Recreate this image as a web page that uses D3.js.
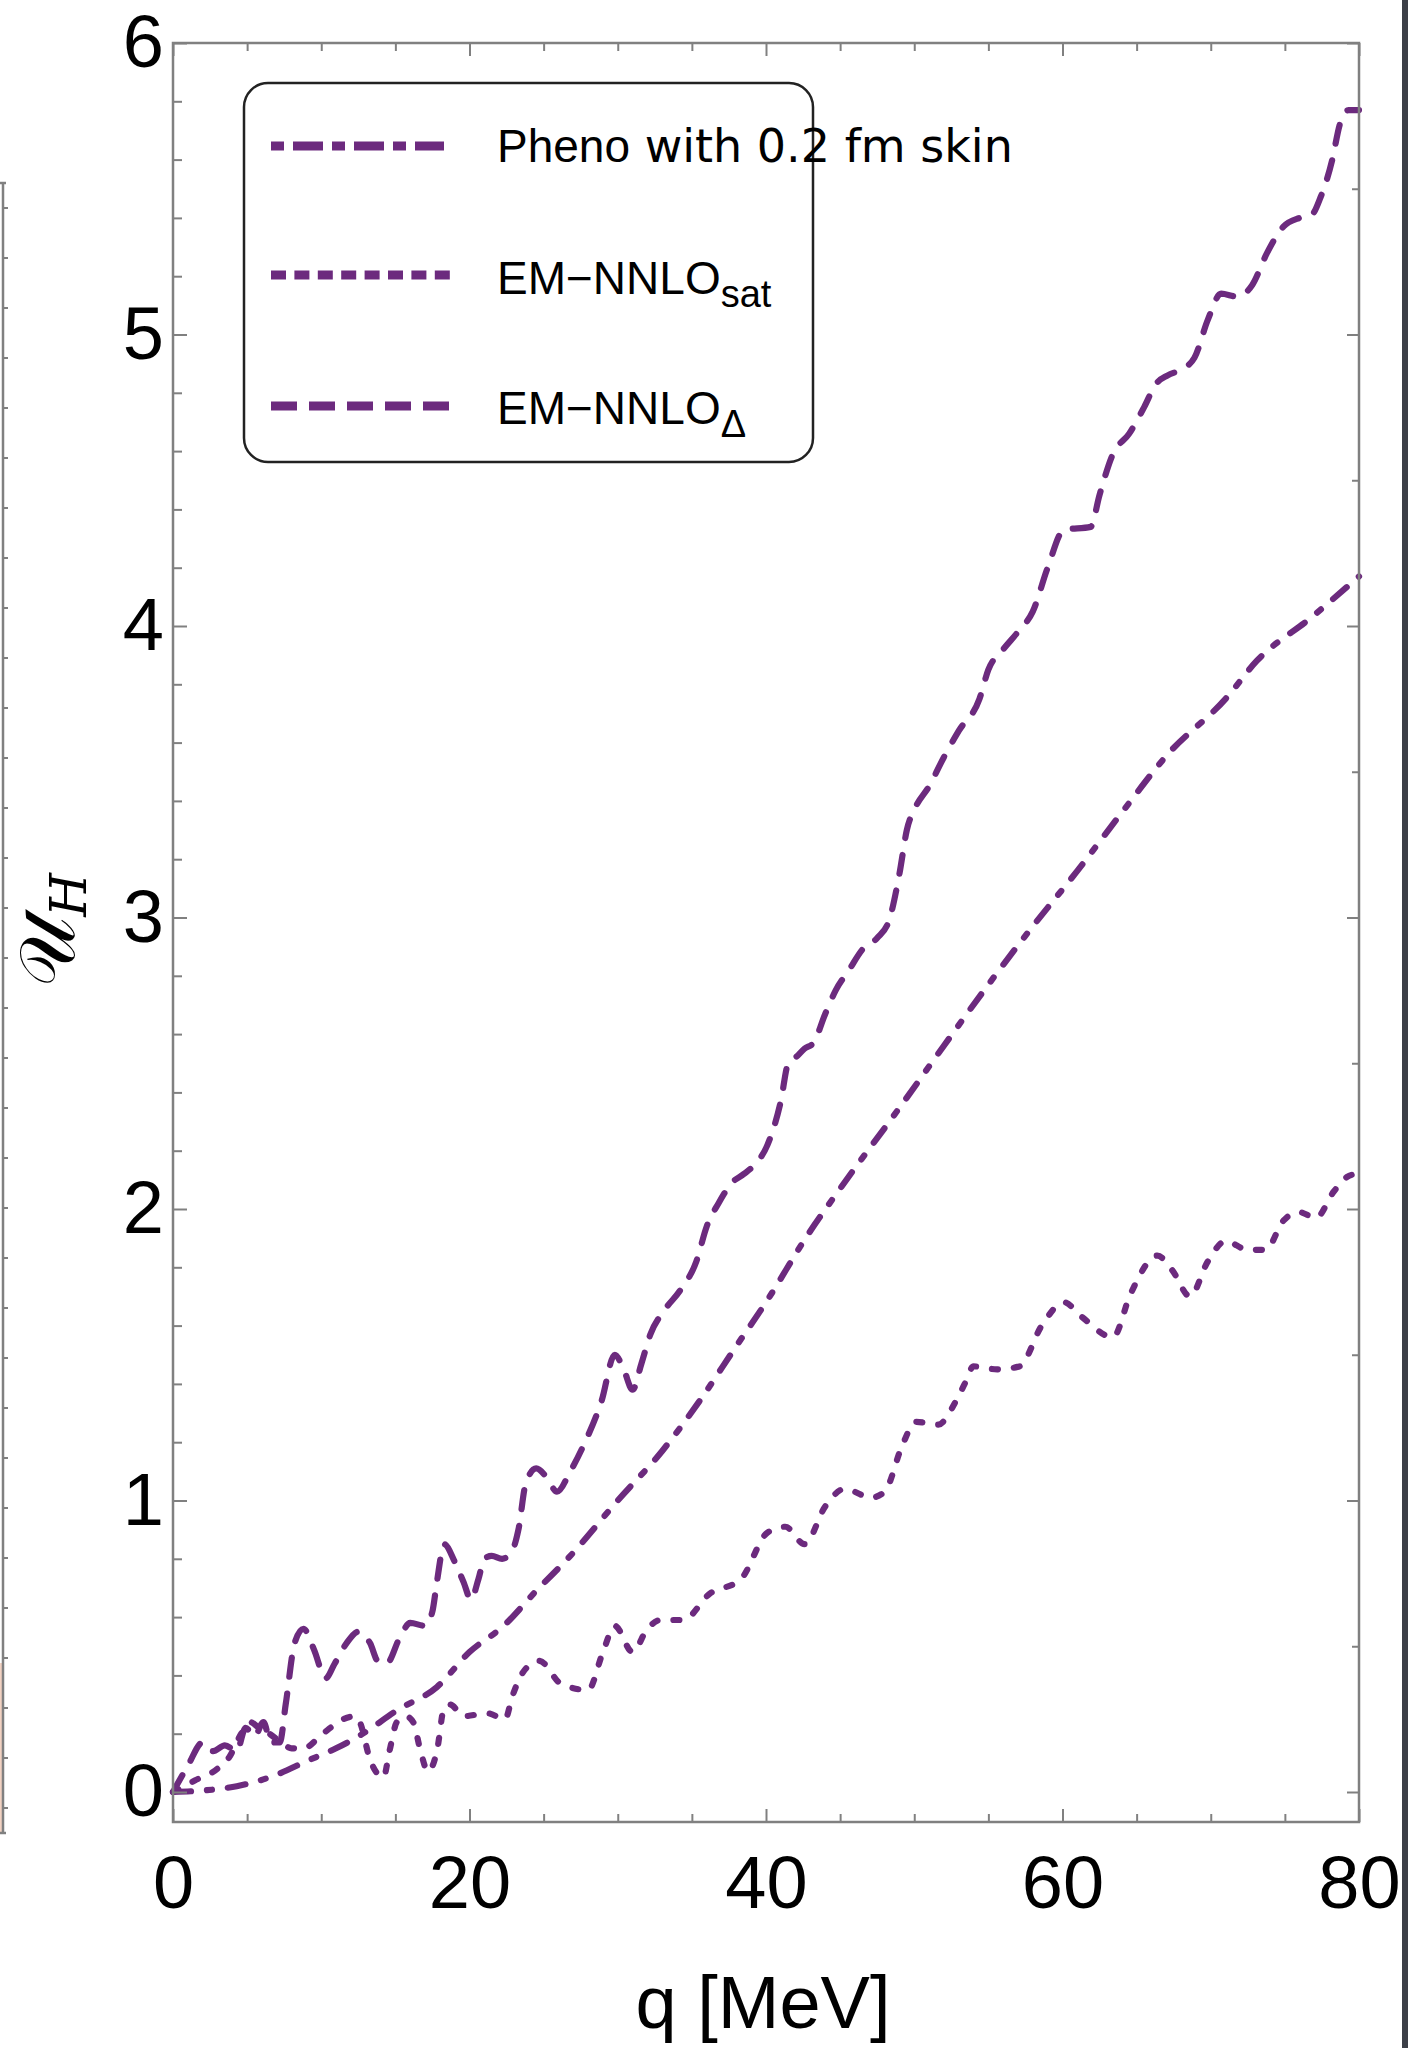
<!DOCTYPE html>
<html>
<head>
<meta charset="utf-8">
<script src="https://cdn.jsdelivr.net/npm/d3@7"></script>
<style>
  body { margin: 0; background: #fff; }
  svg { display: block; }
</style>
</head>
<body>
<svg id="chart"></svg>
<script>
// tick labels
const qTicks = [0, 20, 40, 60, 80];
const uTicks = [0, 1, 2, 3, 4, 5, 6];

// legend text
const legendMain = ["Pheno", "EM\u2212NNLO", "EM\u2212NNLO"];
const legendExtra = [" with 0.2 fm skin", "", ""];
const legendSub = ["", "sat", "\u0394"];

// Pheno with 0.2 fm skin (dot-dashed)
const phenoQ = [0, 3, 4.3, 6.5, 9.2, 11, 12.8, 15.1, 17.8, 20, 22.3, 24.5, 26.8, 30, 33, 35.5, 38, 40, 42.8, 45, 48.9, 52, 55, 58, 61, 64, 67.1, 71, 73.1, 76.8, 80];
const phenoU = [0, 0.01, 0.02, 0.05, 0.11, 0.15, 0.2, 0.28, 0.36, 0.48, 0.57, 0.69, 0.81, 1.0, 1.17, 1.34, 1.53, 1.68, 1.91, 2.07, 2.34, 2.56, 2.77, 2.97, 3.16, 3.36, 3.56, 3.75, 3.88, 4.03, 4.17];

// EM-NNLO_sat (dotted)
const satQ = [0, 1.5, 3.0, 3.8, 4.6, 5.2, 5.8, 6.5, 7.3, 8.0, 8.8, 10.1, 11.5, 12.3, 12.6, 13.3, 14.2, 14.6, 15.1, 15.7, 16.2, 16.7, 17.2, 17.8, 18.3, 18.7, 19.6, 21.2, 22.4, 22.9, 23.6, 24.7, 26.2, 28.0, 29.0, 29.8, 31.0, 32.0, 32.9, 34.4, 36.2, 38.3, 40.1, 41.3, 42.6, 44.0, 45.3, 47.1, 48.0, 49.2, 50.1, 51.6, 52.8, 53.4, 54.0, 55.6, 57.1, 58.6, 60.1, 61.3, 63.4, 64.6, 66.4, 67.4, 68.6, 69.8, 71.0, 72.5, 73.7, 74.9, 75.9, 77.1, 78.3, 79.2, 79.7];
const satU = [0, 0.04, 0.08, 0.12, 0.2, 0.24, 0.22, 0.2, 0.17, 0.15, 0.15, 0.2, 0.25, 0.26, 0.24, 0.11, 0.05, 0.14, 0.24, 0.26, 0.24, 0.14, 0.07, 0.14, 0.29, 0.3, 0.26, 0.27, 0.25, 0.33, 0.41, 0.45, 0.37, 0.35, 0.48, 0.57, 0.48, 0.56, 0.59, 0.59, 0.68, 0.73, 0.89, 0.91, 0.85, 0.98, 1.04, 1.01, 1.03, 1.19, 1.27, 1.26, 1.34, 1.4, 1.46, 1.45, 1.46, 1.6, 1.68, 1.63, 1.56, 1.71, 1.84, 1.79, 1.7, 1.82, 1.89, 1.86, 1.86, 1.96, 1.99, 1.97, 2.06, 2.11, 2.12];

// EM-NNLO_Delta (dashed)
const deltaQ = [0, 1, 2, 2.7, 3.5, 4.3, 4.9, 5.5, 6.1, 6.6, 7.2, 7.6, 8.2, 8.8, 9.5, 10.3, 10.9, 11.7, 12.5, 13.3, 13.8, 14.4, 15.3, 16.0, 17.0, 17.5, 17.8, 18.3, 19.0, 19.6, 20.1, 20.6, 21.0, 21.5, 22.2, 22.9, 23.3, 23.8, 24.5, 25.2, 25.9, 26.8, 27.7, 28.9, 29.8, 30.4, 31.0, 31.6, 32.2, 33.1, 34.2, 35.3, 36.0, 36.8, 37.7, 38.5, 39.2, 40.1, 41.0, 41.5, 42.0, 42.6, 43.2, 44.0, 44.7, 45.6, 46.5, 47.5, 48.3, 49.0, 49.5, 50.1, 51.0, 52.0, 53.0, 54.4, 55.0, 56.0, 57.0, 58.0, 59.0, 60.1, 61.9, 62.5, 63.4, 64.5, 65.5, 66.3, 67.1, 68.0, 68.9, 69.8, 70.7, 71.8, 72.8, 73.8, 74.9, 76.0, 76.8, 77.4, 78.2, 78.7, 79.3, 80.0];
const deltaU = [0, 0.09, 0.17, 0.14, 0.16, 0.14, 0.22, 0.19, 0.24, 0.17, 0.17, 0.30, 0.51, 0.56, 0.49, 0.39, 0.44, 0.51, 0.55, 0.51, 0.45, 0.44, 0.53, 0.58, 0.57, 0.62, 0.72, 0.85, 0.79, 0.72, 0.66, 0.73, 0.80, 0.81, 0.80, 0.83, 0.90, 1.06, 1.11, 1.08, 1.03, 1.10, 1.19, 1.34, 1.50, 1.45, 1.38, 1.47, 1.57, 1.65, 1.72, 1.82, 1.94, 2.02, 2.09, 2.12, 2.15, 2.22, 2.37, 2.50, 2.52, 2.55, 2.57, 2.67, 2.75, 2.82, 2.89, 2.93, 2.99, 3.15, 3.30, 3.38, 3.45, 3.55, 3.64, 3.75, 3.85, 3.92, 3.98, 4.05, 4.20, 4.33, 4.34, 4.45, 4.59, 4.66, 4.75, 4.83, 4.86, 4.88, 4.92, 5.05, 5.14, 5.13, 5.17, 5.28, 5.37, 5.40, 5.41, 5.47, 5.60, 5.72, 5.77, 5.77];

(function() {

	const W = 1408, H = 2048;
	const purple = "#6c2a7e";
	const frameColor = "#808080";
	const labelFont = "'Liberation Sans', Arial, Helvetica, sans-serif";

	const svg = d3.select("#chart").attr("width", W).attr("height", H);

	const x = d3.scaleLinear().domain([0, 80]).range([173, 1359]);
	const y = d3.scaleLinear().domain([0, 6]).range([1792, 43]);
	// the frame goes a little below zero
	const frameBottom = 1822;

	// bits of the neighbouring panel peeking in on the left
	drawNeighbour();

	// curves
	const series = [
		{ q: phenoQ, u: phenoU, dash: "18 16 5 16" },
		{ q: satQ, u: satU, dash: "6 16" },
		{ q: deltaQ, u: deltaU, dash: "19 17" }
	];
	const line = d3.line()
		.x(d => x(d[0]))
		.y(d => y(d[1]))
		.curve(d3.curveMonotoneX);

	svg.append("g").selectAll("path")
		.data(series)
		.join("path")
		.attr("d", s => line(d3.zip(s.q, s.u)))
		.attr("fill", "none")
		.attr("stroke", purple)
		.attr("stroke-width", 6.2)
		.attr("stroke-linecap", "round")
		.attr("stroke-linejoin", "round")
		.attr("stroke-dasharray", s => s.dash);

	// frame and ticks
	svg.append("rect")
		.attr("x", x(0)).attr("y", y(6))
		.attr("width", x(80) - x(0)).attr("height", frameBottom - y(6))
		.attr("fill", "none").attr("stroke", frameColor).attr("stroke-width", 2.5);

	const qMinor = d3.range(0, 81, 5).filter(v => v % 20 !== 0);
	const uMinor = d3.range(0, 31).map(i => i / 5).filter(v => !Number.isInteger(v));
	const uHalf = d3.range(1, 12, 2).map(i => i / 2);

	ticks(d3.axisBottom, x, qMinor, 8, `translate(0,${frameBottom})`);
	ticks(d3.axisTop, x, qMinor, 8, `translate(0,${y(6)})`);
	ticks(d3.axisTop, x, qTicks, 13, `translate(0,${y(6)})`);
	ticks(d3.axisLeft, y, uMinor, 9, `translate(${x(0)},0)`);
	ticks(d3.axisRight, y, uHalf, 7, `translate(${x(80)},0)`);
	ticks(d3.axisRight, y, uTicks, 12, `translate(${x(80)},0)`);

	// labelled axes
	const bottom = svg.append("g")
		.attr("transform", `translate(0,${frameBottom})`)
		.call(d3.axisBottom(x).tickValues(qTicks).tickFormat(d3.format("d"))
			.tickSizeInner(-13).tickSizeOuter(0).tickPadding(33));
	styleAxis(bottom);

	const left = svg.append("g")
		.attr("transform", `translate(${x(0)},0)`)
		.call(d3.axisLeft(y).tickValues(uTicks).tickFormat(d3.format("d"))
			.tickSizeInner(-14).tickSizeOuter(0).tickPadding(9));
	styleAxis(left);

	// axis titles
	svg.append("text")
		.attr("x", 763).attr("y", 2028)
		.attr("text-anchor", "middle")
		.style("font-family", labelFont).style("font-size", "74px")
		.text("q [MeV]");

	const yTitle = svg.append("text")
		.attr("transform", "translate(74,930) rotate(-90)")
		.attr("text-anchor", "middle")
		.style("font-family", "'DejaVu Serif', 'DejaVu Sans', serif")
		.style("font-size", "78px");
	yTitle.append("tspan").text("\u{1D4B0}");
	yTitle.append("tspan")
		.attr("dy", 12)
		.style("font-style", "italic")
		.style("font-size", "50px")
		.text("H");

	drawLegend();

	// dark strip along the right edge of the screenshot
	svg.append("rect")
		.attr("x", 1402).attr("y", 0).attr("width", 6).attr("height", H)
		.attr("fill", "#3c3f47");

	function ticks(axisFn, scale, values, size, translate) {
		svg.append("g")
			.attr("transform", translate)
			.call(axisFn(scale).tickValues(values).tickSizeInner(-size).tickSizeOuter(0).tickFormat(""))
			.call(g => g.select(".domain").remove())
			.selectAll("line")
			.attr("stroke", frameColor)
			.attr("stroke-width", 2);
	}

	function styleAxis(g) {
		g.select(".domain").remove();
		g.selectAll("line").attr("stroke", frameColor).attr("stroke-width", 2);
		g.selectAll("text")
			.attr("fill", "#000")
			.style("font-family", labelFont)
			.style("font-size", "74px");
	}

	function drawLegend() {
		const box = svg.append("g");
		box.append("rect")
			.attr("x", 244).attr("y", 83)
			.attr("width", 569).attr("height", 379)
			.attr("rx", 24).attr("ry", 24)
			.attr("fill", "#fff")
			.attr("stroke", "#222").attr("stroke-width", 2.5);

		const lineY = [146, 275, 406];
		const textY = [162, 294, 424];
		const legendDash = ["13 9 30 9", "15 8.4", "26 12"];
		const lineEnd = [444, 450, 450];

		legendMain.forEach(function(label, i) {
			box.append("line")
				.attr("x1", 271).attr("x2", lineEnd[i])
				.attr("y1", lineY[i]).attr("y2", lineY[i])
				.attr("stroke", purple)
				.attr("stroke-width", 9)
				.attr("stroke-dasharray", legendDash[i]);

			const t = box.append("text")
				.attr("x", 497).attr("y", textY[i])
				.style("font-family", labelFont)
				.style("font-size", "46px");
			t.append("tspan").text(label);
			if (legendSub[i]) {
				t.append("tspan")
					.attr("dy", 13)
					.style("font-size", "38px")
					.text(legendSub[i]);
			}
			if (legendExtra[i]) {
				t.append("tspan")
					.style("font-family", "'DejaVu Sans', sans-serif")
					.style("font-size", "46px")
					.text(legendExtra[i]);
			}
		});
	}

	function drawNeighbour() {
		const ny = d3.scaleLinear().domain([0, 33]).range([1833, 183]);
		const g = svg.append("g");
		g.append("rect")
			.attr("x", 0).attr("y", 1663).attr("width", 4).attr("height", 1833 - 1663)
			.attr("fill", "#f2d2c2");
		g.append("line")
			.attr("x1", 3).attr("x2", 3)
			.attr("y1", ny(33)).attr("y2", ny(0))
			.attr("stroke", frameColor).attr("stroke-width", 2.5);
		g.selectAll(".nb")
			.data([ny(33), ny(0)])
			.join("line")
			.attr("x1", 0).attr("x2", 6)
			.attr("y1", d => d).attr("y2", d => d)
			.attr("stroke", frameColor).attr("stroke-width", 2.5);
		g.selectAll(".nt")
			.data(d3.range(0.5, 33, 1))
			.join("line")
			.attr("x1", 3).attr("x2", 8)
			.attr("y1", d => ny(d)).attr("y2", d => ny(d))
			.attr("stroke", frameColor).attr("stroke-width", 2);
	}

})();
</script>
</body>
</html>
